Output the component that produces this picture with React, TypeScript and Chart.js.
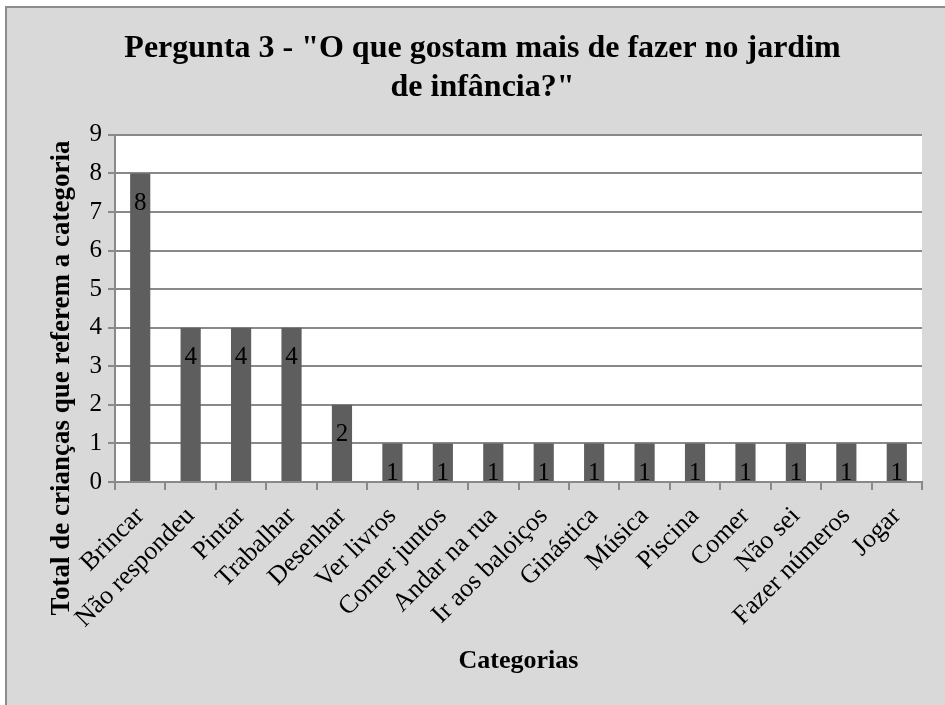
import React, { useEffect, useRef } from "react";
import { Chart, registerables } from "chart.js";

Chart.register(...registerables);

const categories = [
  "Brincar",
  "Não respondeu",
  "Pintar",
  "Trabalhar",
  "Desenhar",
  "Ver livros",
  "Comer juntos",
  "Andar na rua",
  "Ir aos baloiços",
  "Ginástica",
  "Música",
  "Piscina",
  "Comer",
  "Não sei",
  "Fazer números",
  "Jogar",
];
const values = [8, 4, 4, 4, 2, 1, 1, 1, 1, 1, 1, 1, 1, 1, 1, 1];
const titleLines = ['Pergunta 3 - "O que gostam mais de fazer no jardim', 'de infância?"'];
const yTitle = "Total de crianças que referem a categoria";
const xTitle = "Categorias";

const FONT = "'Liberation Serif', 'Times New Roman', serif";
const GRID = "#898989";

const bgPlugin = {
  id: "bgPlugin",
  beforeDraw(chart: any) {
    const { ctx, chartArea, width, height } = chart;
    ctx.save();
    ctx.fillStyle = "#ffffff";
    ctx.fillRect(0, 0, width, height);
    ctx.fillStyle = "#d9d9d9";
    ctx.fillRect(6, 7, width - 6, height - 7);
    ctx.strokeStyle = "#8c8c8c";
    ctx.lineWidth = 2;
    ctx.beginPath();
    ctx.moveTo(6, height);
    ctx.lineTo(6, 7);
    ctx.lineTo(width, 7);
    ctx.stroke();
    ctx.fillStyle = "#ffffff";
    ctx.fillRect(chartArea.left, chartArea.top, chartArea.right - chartArea.left, chartArea.bottom - chartArea.top);
    ctx.restore();
  },
};

const labelPlugin = {
  id: "labelPlugin",
  afterDatasetsDraw(chart: any) {
    const { ctx } = chart;
    const meta = chart.getDatasetMeta(0);
    ctx.save();
    ctx.font = `25px ${FONT}`;
    ctx.fillStyle = "#000000";
    ctx.textAlign = "center";
    ctx.textBaseline = "middle";
    meta.data.forEach((bar: any, i: number) => {
      ctx.fillText(String(values[i]), bar.x, bar.y + 30);
    });
    ctx.restore();
  },
  afterDraw(chart: any) {
    const { ctx } = chart;
    ctx.save();
    ctx.font = `bold 27px ${FONT}`;
    ctx.fillStyle = "#000000";
    ctx.textAlign = "center";
    ctx.textBaseline = "middle";
    ctx.translate(62, 378);
    ctx.rotate(-Math.PI / 2);
    ctx.fillText(yTitle, 0, 0);
    ctx.restore();
  },
};

export default function App() {
  const ref = useRef<HTMLCanvasElement | null>(null);
  useEffect(() => {
    document.body.style.margin = "0";
    const chart = new Chart(ref.current as HTMLCanvasElement, {
      type: "bar",
      data: {
        labels: categories,
        datasets: [
          {
            data: values,
            backgroundColor: "#5e5e5e",
            barPercentage: 0.4,
            categoryPercentage: 1,
          },
        ],
      },
      options: {
        animation: false,
        responsive: false,
        layout: { padding: { left: 43, right: 23, bottom: 24, top: 0 } },
        plugins: {
          legend: { display: false },
          tooltip: { enabled: false },
          title: {
            display: true,
            text: titleLines,
            color: "#000000",
            font: { family: FONT, size: 32, weight: "bold", lineHeight: 1.2 },
            padding: { top: 30, bottom: 28 },
          },
        },
        scales: {
          x: {
            grid: {
              offset: true,
              drawOnChartArea: false,
              color: GRID,
              tickLength: 8,
              lineWidth: 2,
            },
            border: { color: GRID, width: 2 },
            ticks: {
              color: "#000000",
              font: { family: FONT, size: 26 },
              minRotation: 45,
              maxRotation: 45,
              autoSkip: false,
              padding: 11,
            },
            title: {
              display: true,
              text: xTitle,
              color: "#000000",
              font: { family: FONT, size: 26, weight: "bold", lineHeight: 1.2 },
              padding: 4,
            },
            afterFit(scale: any) {
              scale.height = 199;
            },
          },
          y: {
            min: 0,
            max: 9,
            ticks: {
              stepSize: 1,
              color: "#000000",
              font: { family: FONT, size: 25 },
              padding: 6,
            },
            grid: { color: GRID, tickLength: 7, lineWidth: 2 },
            border: { color: GRID, width: 2 },
            title: { display: false },
            afterFit(scale: any) {
              scale.width = 72;
            },
          },
        },
      },
      plugins: [bgPlugin, labelPlugin],
    } as any);
    return () => chart.destroy();
  }, []);
  return (
    <div style={{ width: 945, height: 705 }}>
      <canvas ref={ref} width={945} height={705} style={{ display: "block" }} />
    </div>
  );
}
